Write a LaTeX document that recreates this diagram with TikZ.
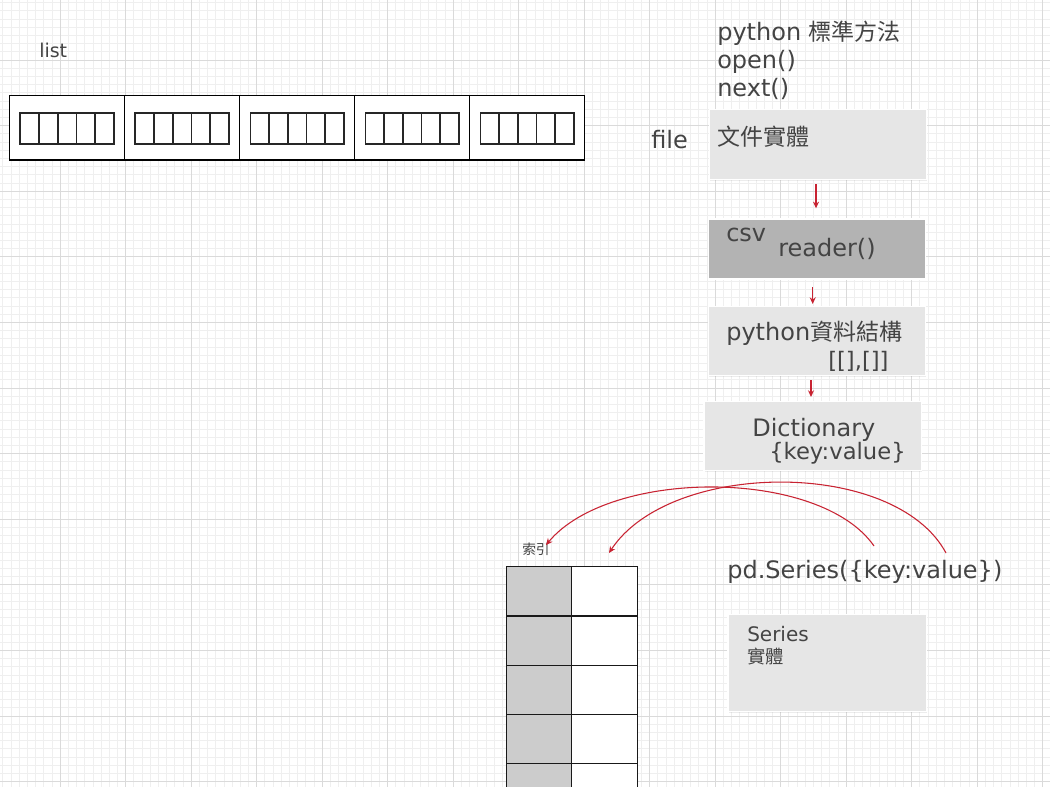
\documentclass[tikz,border=0pt]{standalone}
\usepackage{fontspec}
\setmainfont{DejaVu Sans}
\newfontfamily\cjk{Noto Sans CJK TC}[Scale=0.96]
\usetikzlibrary{arrows.meta,shadows}
\definecolor{txt}{HTML}{444444}
\definecolor{boxlight}{HTML}{E6E6E6}
\definecolor{boxdark}{HTML}{B3B3B3}
\definecolor{cellgray}{HTML}{CCCCCC}
\definecolor{arrowred}{RGB}{200,35,50}
\definecolor{gridminor}{HTML}{EFEFEF}
\definecolor{gridmajor}{HTML}{DADADA}
\tikzset{
  lbl/.style={inner sep=0pt, anchor=base west, text=txt, font=\fontsize{18pt}{21pt}\selectfont},
  smalllbl/.style={lbl, font=\fontsize{15pt}{18pt}\selectfont},
  box/.style={draw=white, line width=1pt, fill=boxlight, anchor=north west, inner sep=0pt,
    drop shadow={shadow xshift=0.6pt, shadow yshift=-0.9pt, opacity=0.15}},
  redarrow/.style={draw=arrowred, line width=0.8pt, -{Stealth[length=5pt,width=4.5pt]}},
  minorgrid/.style={draw=gridminor, line width=0.75pt},
  majorgrid/.style={draw=gridmajor, line width=0.75pt},
  listline/.style={draw=black, line width=0.9pt},
  cellline/.style={draw=black!85, line width=1.3pt},
  tabline/.style={draw=black!90, line width=1pt},
}
\begin{document}
\begin{tikzpicture}[x=0.75pt,y=-0.75pt]
\useasboundingbox (0,0) rectangle (1050,787);
\clip (0,0) rectangle (1050,787);
\fill[white] (0,0) rectangle (1050,787);
% grid
\foreach \i in {-8,...,128} {
  \draw[minorgrid] ({60.3+\i*8.1875},0) -- ({60.3+\i*8.1875},787);
}
\foreach \i in {-8,...,96} {
  \draw[minorgrid] (0,{60.1+\i*8.2}) -- (1050,{60.1+\i*8.2});
}
\foreach \i in {-1,...,16} {
  \draw[majorgrid] ({60.3+\i*65.5},0) -- ({60.3+\i*65.5},787);
}
\foreach \i in {-1,...,12} {
  \draw[majorgrid] (0,{60.1+\i*65.6}) -- (1050,{60.1+\i*65.6});
}
% list
\node[lbl, font=\fontsize{14.25pt}{17pt}\selectfont] (listlbl) at (39,57.5) {list};
\foreach \k in {0,...,4} {
  \fill[white] ({9.6+115.04*\k},95.7) rectangle ++(115.04,64.3);
  \draw[listline] ({9.6+115.04*\k},95.7) rectangle ++(115.04,64.3);
  \foreach \j in {0,...,4} {
    \draw[cellline] ({20.3+115.04*\k+18.7*\j},112.7) rectangle ++(18.7,31.6);
  }
}
% top text
\node[lbl] (t1) at (717,41) {python {\cjk 標準方法}};
\node[lbl] (t2) at (717,69) {open()};
\node[lbl] (t3) at (717,97) {next()};
\node[lbl] (file) at (651,148.5) {file};
% boxes
\node[box, minimum width=216.7*0.75pt, minimum height=70*0.75pt] (b1) at (709,109) {};
\node[box, fill=boxdark, minimum width=217.3*0.75pt, minimum height=60*0.75pt] (b2) at (707.7,218.3) {};
\node[box, minimum width=217.3*0.75pt, minimum height=69*0.75pt] (b3) at (707.7,306) {};
\node[box, minimum width=217.4*0.75pt, minimum height=69*0.75pt] (b4) at (703.3,401) {};
\node[box, minimum width=198.7*0.75pt, minimum height=96.7*0.75pt] (b5) at (727.3,614) {};
% box texts
\node[lbl] (b1t) at (717,146) {\cjk 文件實體};
\node[lbl] (b2ta) at (726,241.5) {csv};
\node[lbl] (b2tb) at (778,257) {reader()};
\node[lbl] (b3ta) at (726,341) {python{\cjk 資料結構}};
\node[lbl, font=\fontsize{17pt}{20pt}\selectfont] (b3tb) at (828,368.5) {[[],[]]};
\node[lbl] (b4ta) at (752,436.5) {Dictionary};
\node[lbl, font=\fontsize{17pt}{20pt}\selectfont] (b4tb) at (769,459.5) {\{key:value\}};
\node[smalllbl] (b5ta) at (747,641.5) {Series};
\node[lbl, font=\fontsize{14.3pt}{17pt}\selectfont] (b5tb) at (747,663.5) {\cjk 實體};
% arrows between boxes
\coordinate (a1) at (816,0);
\coordinate (a2) at (812.7,0);
\coordinate (a3) at (811,0);
\draw[redarrow, shorten <=3pt, shorten >=7.5pt] (b1.south -| a1) -- (b2.north -| a1);
\draw[redarrow, shorten <=5.6pt, shorten >=1.5pt] (b2.south -| a2) -- (b3.north -| a2);
\draw[redarrow, shorten <=3pt, shorten >=3pt] (b3.south -| a3) -- (b4.north -| a3);
% pd.Series
\node[lbl] (pds) at (727,578.5) {pd.Series(\{key:value\})};
% index label and table
\node[lbl, font=\fontsize{10.7pt}{13pt}\selectfont] (idx) at (522,555) {\cjk 索引};
\foreach \r in {0,...,4} {
  \fill[cellgray] (506.7,{566.7+49.25*\r}) rectangle (571.7,{566.7+49.25*(\r+1)});
  \fill[white] (571.7,{566.7+49.25*\r}) rectangle (637.3,{566.7+49.25*(\r+1)});
}
\foreach \r in {0,...,4} {
  \draw[tabline] (506.7,{566.7+49.25*\r}) rectangle (571.7,{566.7+49.25*(\r+1)});
  \draw[tabline] (571.7,{566.7+49.25*\r}) rectangle (637.3,{566.7+49.25*(\r+1)});
}
% curved arrows
\coordinate (ka) at (874,546);
\coordinate (kb) at (946,553);
\coordinate (ea) at (546,545);
\coordinate (eb) at (609,553);
\draw[redarrow] (ka) .. controls (820,468) and (610,468) .. (ea);
\draw[redarrow] (kb) .. controls (895,458) and (670,460) .. (eb);
\end{tikzpicture}
\end{document}
